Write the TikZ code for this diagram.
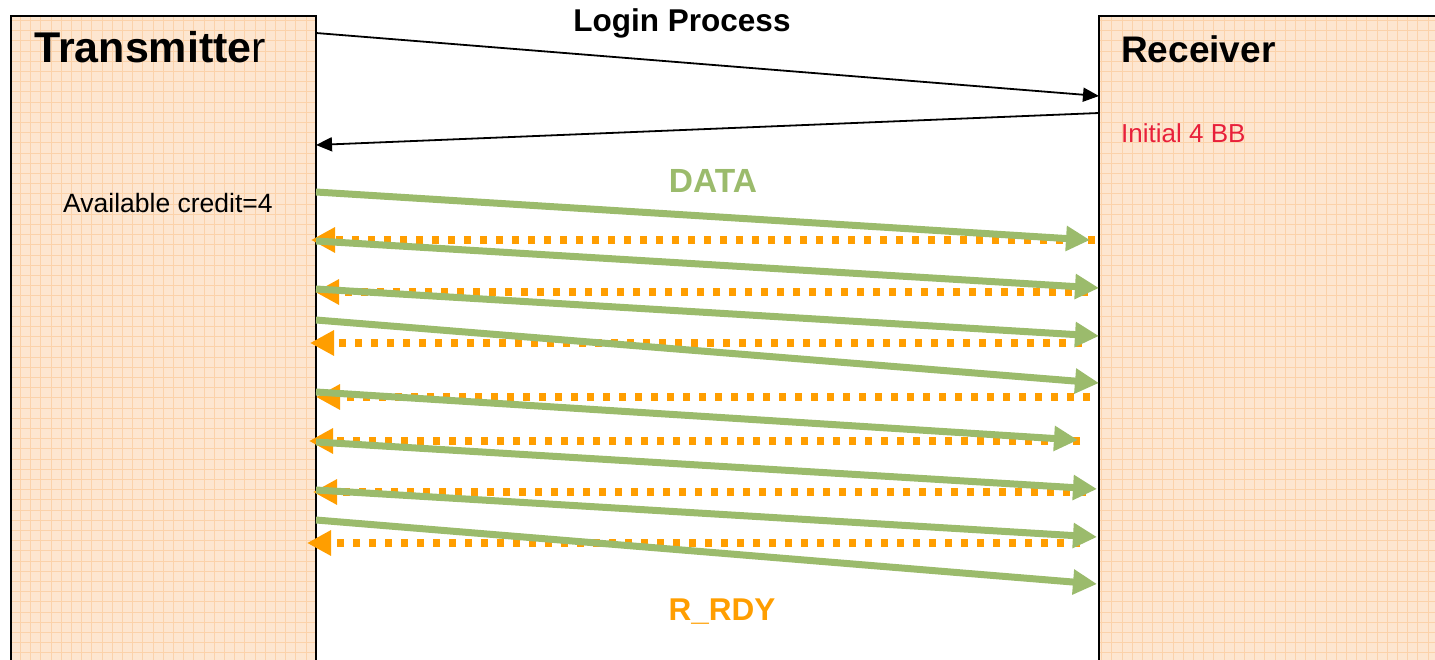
\documentclass[tikz,border=0pt]{standalone}
\usepackage{fontspec}
\setmainfont{Liberation Sans}
\usetikzlibrary{arrows.meta}
\definecolor{datagreen}{RGB}{155,187,108}
\definecolor{rdyorange}{RGB}{255,158,0}
\definecolor{panelfill}{RGB}{253,230,208}
\definecolor{panelgrid}{RGB}{251,210,170}
\definecolor{bbred}{RGB}{232,32,58}
\begin{document}
\begin{tikzpicture}[x=1pt,y=-1pt,
  panel/.style={draw=black, line width=1.5pt, fill=panelfill, rectangle,
    anchor=north west, inner sep=0pt, outer sep=0pt},
  gridlines/.style={draw=panelgrid, line width=0.8pt},
  login/.style={draw=black, line width=1.8pt, -{Triangle[length=16pt,width=14pt]}},
  data/.style={draw=datagreen, line width=7pt, -{Triangle[length=24pt,width=24pt]}},
  rdy/.style={draw=rdyorange, line width=7.5pt, dash pattern=on 7.5pt off 8.5pt,
    -{Triangle[length=24pt,width=24pt]}},
  title/.style={font=\bfseries, anchor=base west, inner sep=0pt},
]
\path[use as bounding box] (0,0) rectangle (1435,660);
\clip (0,0) rectangle (1435,660);

% the two stations
\node[panel, minimum width=305pt, minimum height=680pt] (tx) at (11,16) {};
\node[panel, minimum width=360pt, minimum height=680pt] (rx) at (1099,16) {};
\begin{scope}
  \clip (11.8,16.8) rectangle (315.2,680);
  \draw[gridlines, step=10.2pt] (11,16) grid (320,680);
\end{scope}
\begin{scope}
  \clip (1099.8,16.8) rectangle (1440,680);
  \draw[gridlines, step=10.2pt] (1099,16) grid (1440,680);
\end{scope}
\draw[line width=1.5pt] (11,680) -- (11,16) -- (316,16) -- (316,680);
\draw[line width=1.5pt] (1099,680) -- (1099,16) -- (1440,16);

% labels
\node[title, font=\fontsize{43}{43}\selectfont\bfseries] (txname) at (34,63) {Transmitte\mdseries r};
\node[title, font=\fontsize{37}{37}\selectfont\bfseries] (rxname) at (1121,63) {Receiver};
\node[anchor=base west, inner sep=0pt, font=\fontsize{26.5}{26.5}\selectfont] (credit) at (63,213) {Available credit=4};
\node[anchor=base west, inner sep=0pt, text=bbred, font=\fontsize{26}{26}\selectfont] (initbb) at (1121,143) {Initial 4 BB};
\node[anchor=base, inner sep=0pt, font=\fontsize{31.5}{31.5}\selectfont\bfseries] (loginlbl) at (682,32) {Login Process};
\node[anchor=base, inner sep=0pt, text=datagreen, font=\fontsize{33.5}{33.5}\selectfont\bfseries] (datalbl) at (713,193) {DATA};
\node[anchor=base, inner sep=0pt, text=rdyorange, font=\fontsize{31.5}{31.5}\selectfont\bfseries] (rdylbl) at (722,620) {R\_RDY};

% login exchange
\coordinate (l1s) at (316,33);
\coordinate (l1e) at (1099,96);
\coordinate (l2s) at (1099,113);
\coordinate (l2e) at (316,145);
\draw[login] (l1s) -- (l1e);
\draw[login] (l2s) -- (l2e);

% R_RDY primitives returned by the receiver
\foreach \i/\xs/\xe/\y in {1/1095/311/240, 2/1088/315/292, 3/1082/310/343,
                            4/1090/316/397, 5/1080/309/441, 6/1086/313/492,
                            7/1080/307/543} {
  \coordinate (r\i s) at (\xs,\y);
  \coordinate (r\i e) at (\xe,\y);
  \draw[rdy] (r\i s) -- (r\i e);
}

% DATA frames sent by the transmitter
\foreach \i/\ys/\xe/\ye in {1/192/1090/240, 2/241/1099/288, 3/289/1099/336,
                            4/320/1099/383, 5/392/1078/440, 6/442/1097/489,
                            7/490/1097/537, 8/520/1097/584} {
  \coordinate (g\i s) at (316,\ys);
  \coordinate (g\i e) at (\xe,\ye);
  \draw[data] (g\i s) -- (g\i e);
}
\end{tikzpicture}
\end{document}
